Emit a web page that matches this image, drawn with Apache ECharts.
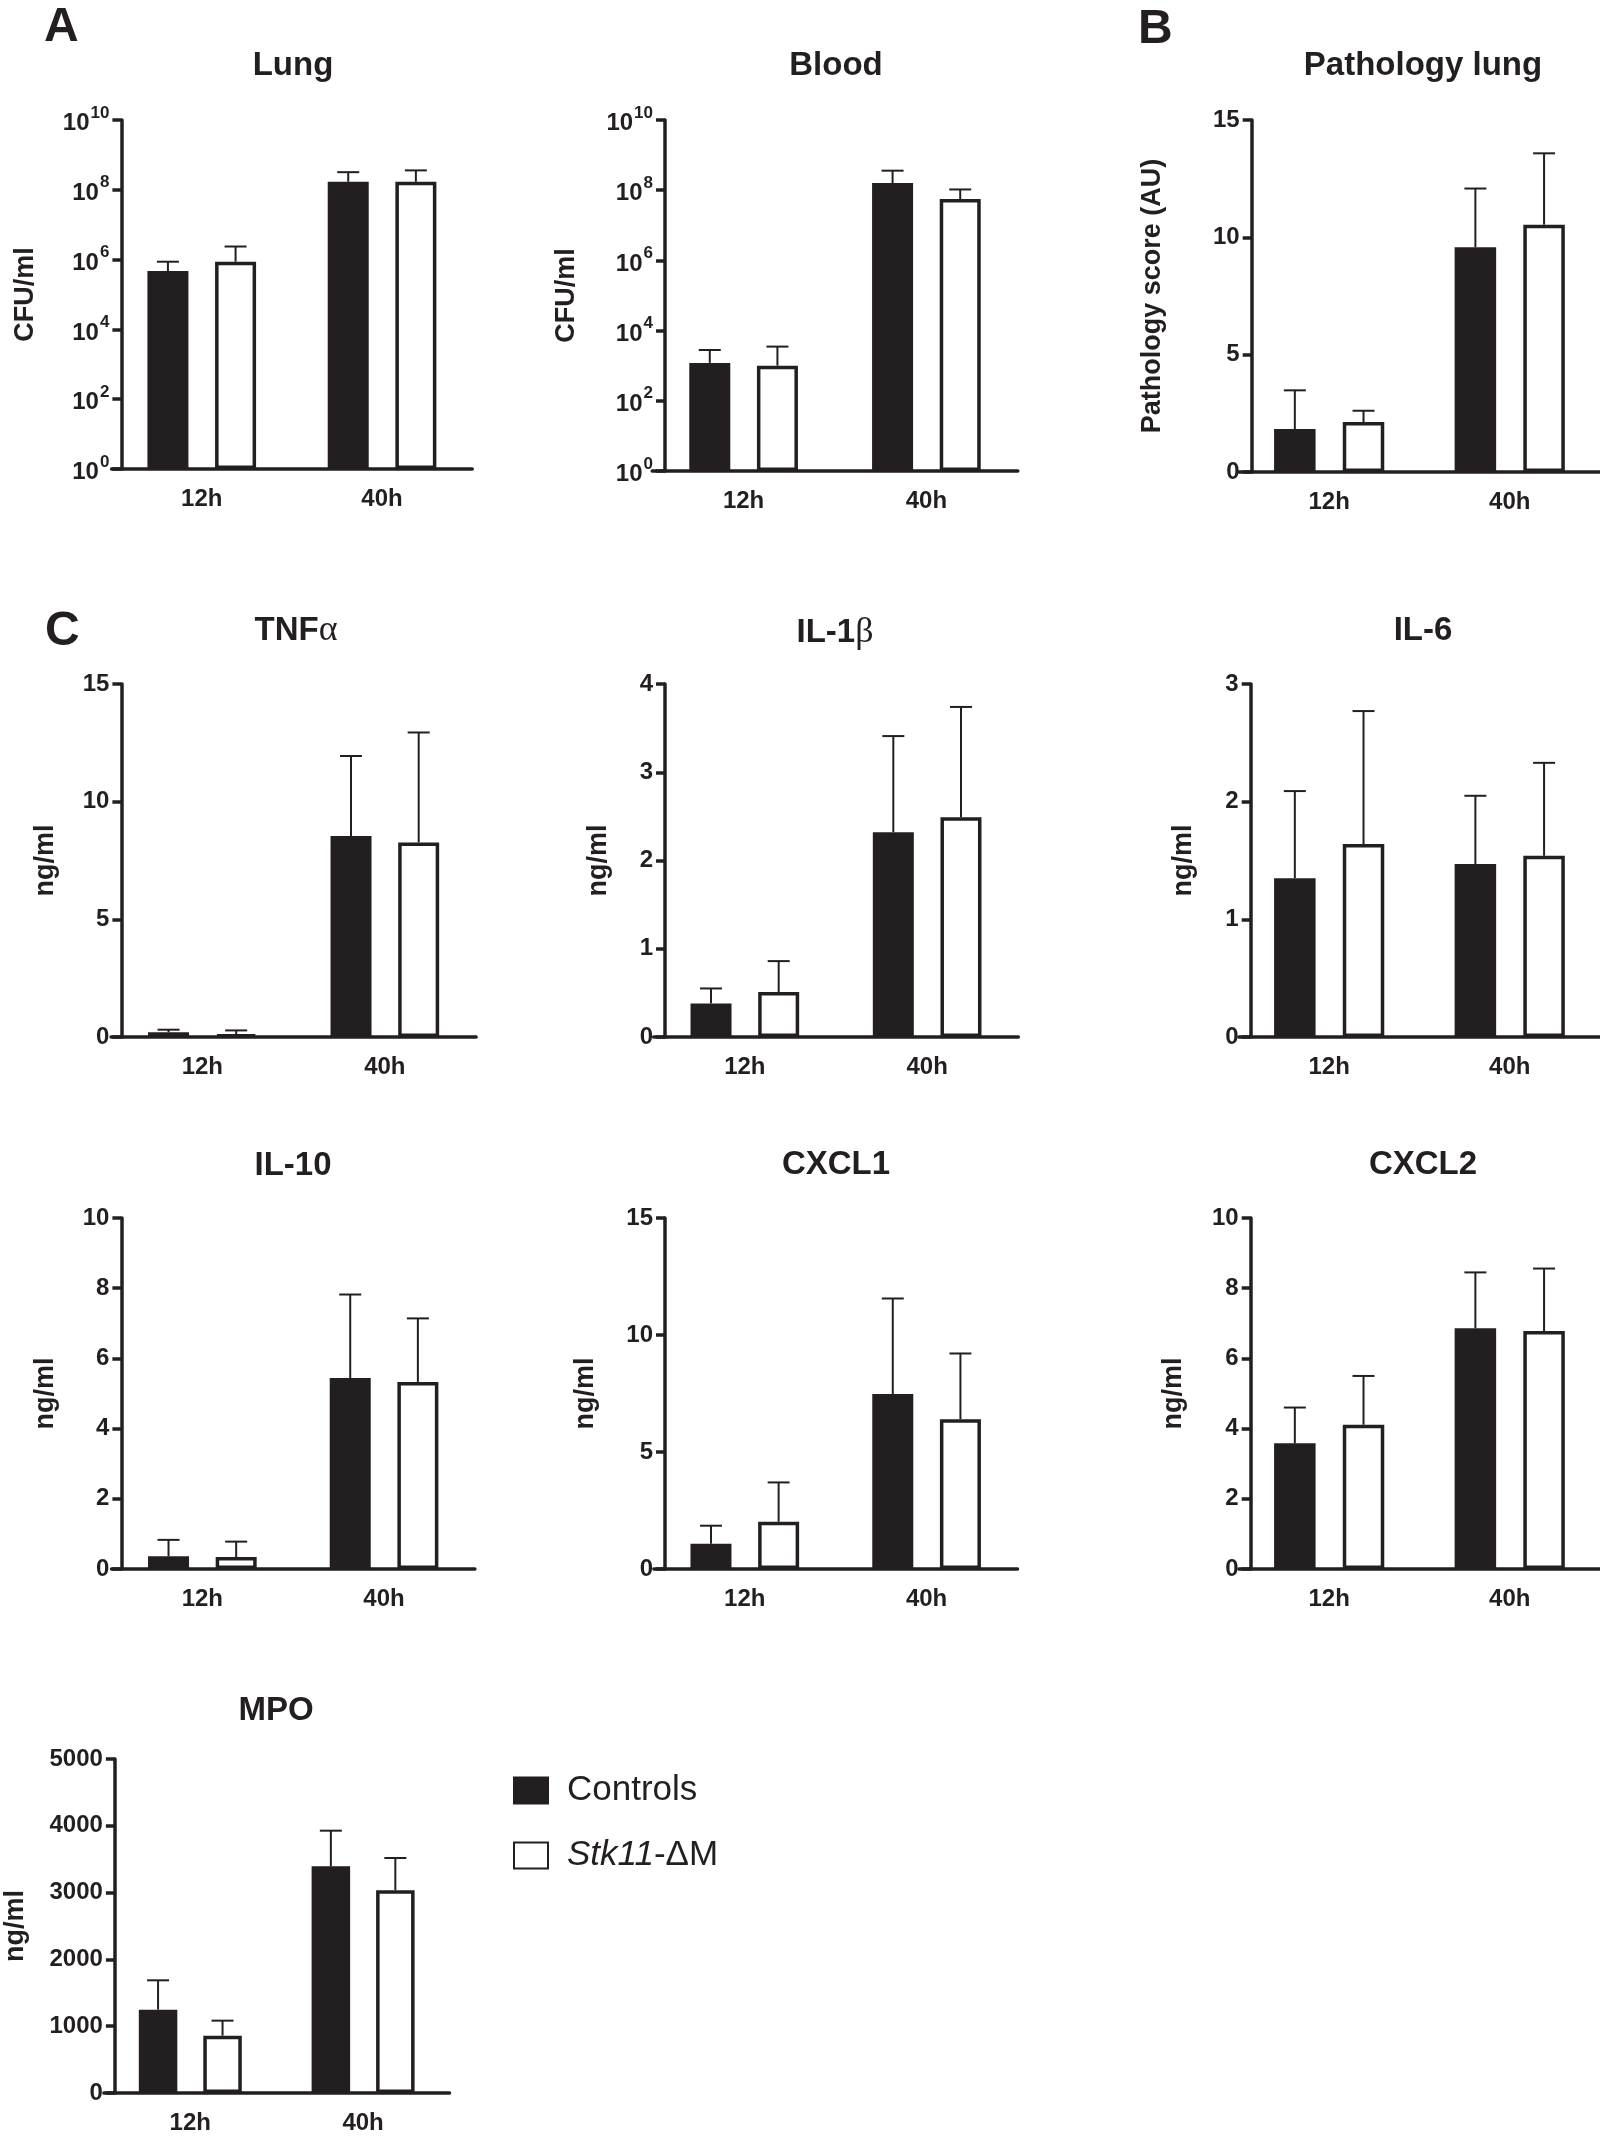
<!DOCTYPE html>
<html><head><meta charset="utf-8">
<script src="https://cdn.jsdelivr.net/npm/echarts@6/dist/echarts.min.js"></script>
<style>html,body{margin:0;padding:0;background:#fff}#c{width:1600px;height:2136px}</style>
</head><body><div id="c"></div>
<script>
// ---------------- DATA ----------------
const categories = ['12h', '40h'];
const groupNames = ['Controls', 'Stk11-ΔM'];

// A – CFU/ml (log scale); mean and upper error per time point
const lungControls = [4.7e5, 1.7e8];
const lungControlsErr = [4.0e5, 1.5e8];
const lungStk11 = [8.7e5, 1.7e8];
const lungStk11Err = [1.5e6, 1.9e8];

const bloodControls = [1.2e3, 1.6e8];
const bloodControlsErr = [1.6e3, 2.0e8];
const bloodStk11 = [1.0e3, 5.6e7];
const bloodStk11Err = [2.5e3, 4.9e7];

// B – Pathology score (AU)
const pathControls = [1.83, 9.58];
const pathControlsErr = [1.65, 2.50];
const pathStk11 = [2.13, 10.54];
const pathStk11Err = [0.48, 3.04];

// C – cytokines (ng/ml)
const tnfControls = [0.20, 8.54];
const tnfControlsErr = [0.11, 3.40];
const tnfStk11 = [0.11, 8.27];
const tnfStk11Err = [0.17, 4.67];

const il1bControls = [0.38, 2.32];
const il1bControlsErr = [0.17, 1.09];
const il1bStk11 = [0.51, 2.49];
const il1bStk11Err = [0.35, 1.25];

const il6Controls = [1.35, 1.47];
const il6ControlsErr = [0.74, 0.58];
const il6Stk11 = [1.64, 1.54];
const il6Stk11Err = [1.13, 0.79];

const il10Controls = [0.36, 5.44];
const il10ControlsErr = [0.47, 2.38];
const il10Stk11 = [0.34, 5.33];
const il10Stk11Err = [0.44, 1.81];

const cxcl1Controls = [1.08, 7.48];
const cxcl1ControlsErr = [0.77, 4.08];
const cxcl1Stk11 = [2.02, 6.40];
const cxcl1Stk11Err = [1.68, 2.81];

const cxcl2Controls = [3.58, 6.86];
const cxcl2ControlsErr = [1.02, 1.59];
const cxcl2Stk11 = [4.11, 6.78];
const cxcl2Stk11Err = [1.39, 1.78];

const mpoControls = [1248, 3393];
const mpoControlsErr = [439, 534];
const mpoStk11 = [858, 3034];
const mpoStk11Err = [225, 484];

// axis ranges
const cfuExponents = [0, 2, 4, 6, 8, 10];   // tick labels 10^0 ... 10^10
const pathAxis = [0, 15, 5];
const tnfAxis = [0, 15, 5];
const il1bAxis = [0, 4, 1];
const il6Axis = [0, 3, 1];
const il10Axis = [0, 10, 2];
const cxcl1Axis = [0, 15, 5];
const cxcl2Axis = [0, 10, 2];
const mpoAxis = [0, 5000, 1000];

// ---------------- PANEL DEFINITIONS ----------------
const panels = [
  {title: 'Lung', yName: 'CFU/ml', log: true, c: lungControls, ce: lungControlsErr, s: lungStk11, se: lungStk11Err},
  {title: 'Blood', yName: 'CFU/ml', log: true, c: bloodControls, ce: bloodControlsErr, s: bloodStk11, se: bloodStk11Err},
  {title: 'Pathology lung', yName: 'Pathology score (AU)', axis: pathAxis, c: pathControls, ce: pathControlsErr, s: pathStk11, se: pathStk11Err},
  {title: 'TNF{g|α}', yName: 'ng/ml', axis: tnfAxis, c: tnfControls, ce: tnfControlsErr, s: tnfStk11, se: tnfStk11Err},
  {title: 'IL-1{g|β}', yName: 'ng/ml', axis: il1bAxis, c: il1bControls, ce: il1bControlsErr, s: il1bStk11, se: il1bStk11Err},
  {title: 'IL-6', yName: 'ng/ml', axis: il6Axis, c: il6Controls, ce: il6ControlsErr, s: il6Stk11, se: il6Stk11Err},
  {title: 'IL-10', yName: 'ng/ml', axis: il10Axis, c: il10Controls, ce: il10ControlsErr, s: il10Stk11, se: il10Stk11Err},
  {title: 'CXCL1', yName: 'ng/ml', axis: cxcl1Axis, c: cxcl1Controls, ce: cxcl1ControlsErr, s: cxcl1Stk11, se: cxcl1Stk11Err},
  {title: 'CXCL2', yName: 'ng/ml', axis: cxcl2Axis, c: cxcl2Controls, ce: cxcl2ControlsErr, s: cxcl2Stk11, se: cxcl2Stk11Err},
  {title: 'MPO', yName: 'ng/ml', axis: mpoAxis, c: mpoControls, ce: mpoControlsErr, s: mpoStk11, se: mpoStk11Err}
];

// layout (pixels): grid box, position of the drawn y-axis line, name gap, title anchor, bar width/gap
const boxes = [
  {left: 111.6, width: 360.6, axisX: 121.4, top: 120, height: 349, nameGap: 82, tx: 293, ty: 48, bw: 41, gap: 0.65},
  {left: 652.2, width: 365.6, axisX: 665, top: 120, height: 351, nameGap: 85, tx: 836, ty: 48, bw: 41, gap: 0.65},
  {left: 1238.9, width: 365.4, axisX: 1251.7, top: 120, height: 352, nameGap: 86, tx: 1423, ty: 48, bw: 41.5, gap: 0.655},
  {left: 111.1, width: 365, axisX: 121.4, top: 684, height: 353, nameGap: 62, tx: 296, ty: 613, bw: 41, gap: 0.65},
  {left: 653.7, width: 364.6, axisX: 665, top: 684, height: 353, nameGap: 53, tx: 835, ty: 615, bw: 41, gap: 0.65},
  {left: 1238.9, width: 365.4, axisX: 1250.7, top: 684, height: 353, nameGap: 54, tx: 1423, ty: 613, bw: 41.5, gap: 0.655},
  {left: 111.5, width: 363.4, axisX: 121.4, top: 1218, height: 351, nameGap: 62, tx: 293, ty: 1148, bw: 41, gap: 0.65},
  {left: 653.9, width: 363.6, axisX: 665, top: 1218, height: 351, nameGap: 66, tx: 836, ty: 1147, bw: 41, gap: 0.65},
  {left: 1238.9, width: 365.4, axisX: 1250.7, top: 1218, height: 351, nameGap: 64, tx: 1423, ty: 1147, bw: 41.5, gap: 0.655},
  {left: 103.9, width: 345.6, axisX: 114.9, top: 1759, height: 334, nameGap: 86, tx: 276, ty: 1693, bw: 38.5, gap: 0.675}
];

const INK = '#231f20';
const FONT = '"Liberation Sans", Arial, Helvetica, sans-serif';
const BORDER = 3.5;

function errRender(offset) {
  return function (params, api) {
    const ci = api.value(0);
    const top = api.coord([ci, api.value(1)]);
    const hi = api.coord([ci, api.value(2)]);
    const x = top[0] + offset;
    const st = {stroke: INK, lineWidth: 2};
    return {
      type: 'group',
      children: [
        {type: 'line', shape: {x1: x, y1: top[1], x2: x, y2: hi[1]}, style: st},
        {type: 'line', shape: {x1: x - 11, y1: hi[1], x2: x + 11, y2: hi[1]}, style: st}
      ]
    };
  };
}

const grid = [], xAxis = [], yAxis = [], series = [], title = [];

panels.forEach((p, i) => {
  const b = boxes[i];
  const off = (b.bw + b.bw * b.gap) / 2;
  grid.push({left: b.left, top: b.top, width: b.width, height: b.height});
  title.push({
    text: p.title, left: b.tx, top: b.ty, textAlign: 'center', padding: 0,
    textStyle: {
      fontFamily: FONT, fontWeight: 'bold', fontSize: 33, color: INK, lineHeight: 36,
      rich: {g: {fontFamily: '"Liberation Serif", "DejaVu Serif", serif', fontWeight: 'normal', fontSize: 36, color: INK, lineHeight: 36}}
    }
  });
  xAxis.push({
    type: 'category', gridIndex: i, data: categories,
    axisLine: {onZero: false, lineStyle: {color: INK, width: BORDER}},
    axisTick: {alignWithLabel: true, length: 10, lineStyle: {color: INK, width: BORDER}},
    axisLabel: {margin: 18, fontFamily: FONT, fontWeight: 'bold', fontSize: 24, color: INK},
    splitLine: {show: false}
  });
  const y = {
    gridIndex: i, offset: b.left - b.axisX,
    name: p.yName, nameLocation: 'middle', nameGap: b.nameGap,
    nameTextStyle: {fontFamily: FONT, fontWeight: 'bold', fontSize: 27, color: INK},
    axisLine: {show: true, lineStyle: {color: INK, width: BORDER}},
    axisTick: {show: true, length: 9, lineStyle: {color: INK, width: BORDER}},
    splitLine: {show: false},
    axisLabel: {margin: 12, fontFamily: FONT, fontWeight: 'bold', fontSize: 24, color: INK}
  };
  if (p.log) {
    // ticks every two decades: a base-100 log scale puts them at 10^0, 10^2, ... 10^10
    y.type = 'log';
    y.logBase = 100;
    y.min = Math.pow(10, cfuExponents[0]);
    y.max = Math.pow(10, cfuExponents[cfuExponents.length - 1]);
    y.splitNumber = cfuExponents.length - 1;
    y.axisLabel.formatter = v => '{b|10}{s|' + Math.round(Math.log10(v)) + '}';
    y.axisLabel.rich = {
      b: {fontFamily: FONT, fontWeight: 'bold', fontSize: 24, color: INK, padding: [7, 0, 0, 0], verticalAlign: 'bottom'},
      s: {fontFamily: FONT, fontWeight: 'bold', fontSize: 17, color: INK, verticalAlign: 'top', padding: [0, 0, 0, 1]}
    };
  } else {
    y.type = 'value';
    y.min = p.axis[0]; y.max = p.axis[1]; y.interval = p.axis[2];
    y.axisLabel.formatter = v => String(v);
  }
  yAxis.push(y);

  series.push({
    type: 'bar', name: groupNames[0], xAxisIndex: i, yAxisIndex: i, data: p.c,
    barWidth: b.bw, barGap: (b.gap * 100) + '%',
    itemStyle: {color: INK, borderColor: INK, borderWidth: BORDER}, z: 2
  });
  series.push({
    type: 'bar', name: groupNames[1], xAxisIndex: i, yAxisIndex: i, data: p.s,
    barWidth: b.bw, barGap: (b.gap * 100) + '%',
    itemStyle: {color: '#ffffff', borderColor: INK, borderWidth: BORDER}, z: 2
  });
  series.push({
    type: 'custom', name: 'err-c-' + i, xAxisIndex: i, yAxisIndex: i, z: 3,
    renderItem: errRender(-off), encode: {x: 0, y: [1, 2]},
    data: categories.map((c, j) => [j, p.c[j], p.c[j] + p.ce[j]])
  });
  series.push({
    type: 'custom', name: 'err-s-' + i, xAxisIndex: i, yAxisIndex: i, z: 3,
    renderItem: errRender(off), encode: {x: 0, y: [1, 2]},
    data: categories.map((c, j) => [j, p.s[j], p.s[j] + p.se[j]])
  });
});

// panel letters
[['A', 44, 4], ['B', 1138, 6], ['C', 45, 608]].forEach(l => {
  title.push({text: l[0], left: l[1], top: l[2], padding: 0,
    textStyle: {fontFamily: FONT, fontWeight: 'bold', fontSize: 48, color: INK, lineHeight: 48}});
});

const chart = echarts.init(document.getElementById('c'), null, {renderer: 'canvas'});
chart.setOption({
  animation: false,
  backgroundColor: '#ffffff',
  title: title,
  grid: grid,
  xAxis: xAxis,
  yAxis: yAxis,
  legend: {
    data: groupNames, orient: 'vertical', left: 513, top: 1773,
    itemWidth: 34, itemHeight: 26, itemGap: 30, icon: 'rect', padding: 0,
    selectedMode: false,
    formatter: n => n === 'Stk11-ΔM' ? '{i|Stk11}-ΔM' : n,
    textStyle: {
      fontFamily: FONT, fontSize: 35, color: INK, padding: [0, 0, 0, 14],
      rich: {i: {fontFamily: FONT, fontStyle: 'italic', fontSize: 35, color: INK}}
    }
  },
  series: series
});
</script>
</body></html>
